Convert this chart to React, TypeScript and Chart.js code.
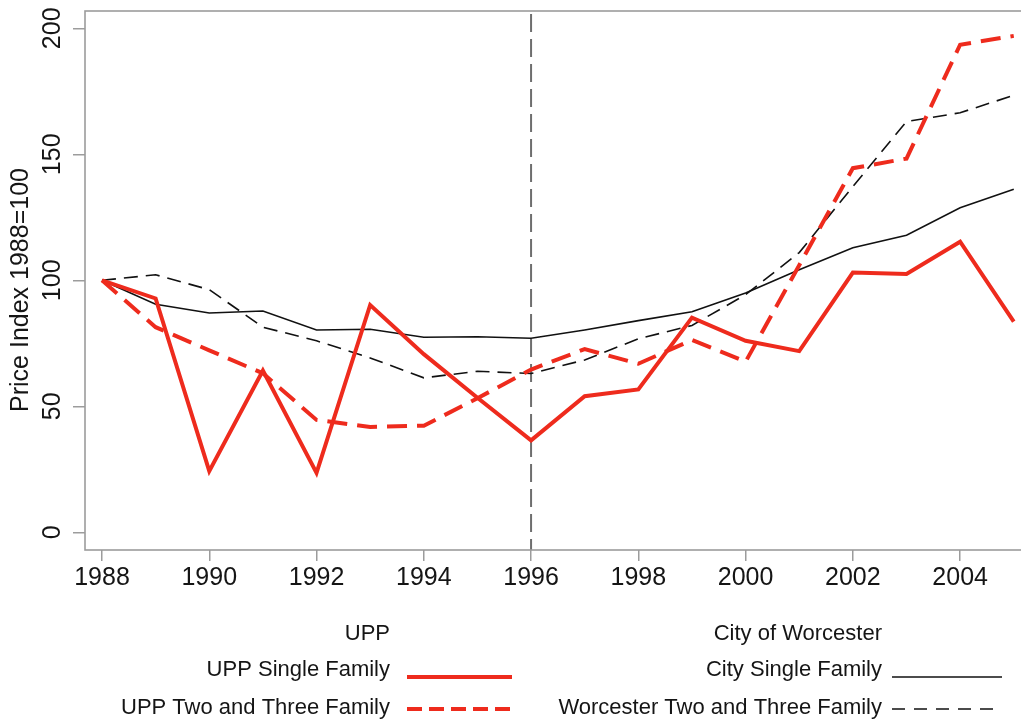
import React, { useEffect, useRef } from "react";
import { Chart, registerables } from "chart.js";

Chart.register(...registerables);

const YEARS = [1988, 1989, 1990, 1991, 1992, 1993, 1994, 1995, 1996, 1997, 1998, 1999, 2000, 2001, 2002, 2003, 2004, 2005];
const UPP_SINGLE = [100, 92.8, 24.3, 64.2, 23.6, 90.2, 70.7, 53.4, 36.5, 54, 56.7, 85.2, 76, 71.9, 103.1, 102.5, 115.3, 83.6];
const UPP_TWO_THREE = [100, 81.4, 72.2, 63.1, 44.6, 41.8, 42.3, 53.2, 64.6, 72.7, 66.9, 76.3, 67.7, 106, 144.5, 148.3, 193.5, 197];
const CITY_SINGLE = [100, 90.5, 87, 87.8, 80.3, 80.6, 77.4, 77.6, 77, 80.3, 84, 87.5, 95, 104.2, 112.9, 117.9, 128.8, 136.1];
const WORC_TWO_THREE = [100, 102.2, 96.3, 81.4, 76, 69.2, 61.3, 63.9, 63, 68.4, 76.8, 82.1, 94.3, 111, 137.2, 163, 166.5, 173.4];

const X_TICKS = [1988, 1990, 1992, 1994, 1996, 1998, 2000, 2002, 2004];
const Y_TICKS = [0, 50, 100, 150, 200];
const MARK_YEAR = 1996;

const Y_TITLE = "Price Index 1988=100";
const GROUP_TITLES = ["UPP", "City of Worcester"];
const SERIES_NAMES = ["UPP Single Family", "UPP Two and Three Family", "City Single Family", "Worcester Two and Three Family"];

const RED = "#ee2b1d";
const FONT = "'Liberation Sans', Arial, sans-serif";

export default function App() {
  const ref = useRef<HTMLCanvasElement | null>(null);

  useEffect(() => {
    const canvas = ref.current;
    if (!canvas) return;
    const pts = (arr: number[]) => YEARS.map((x, i) => ({ x, y: arr[i] }));

    const styles = [
      { color: RED, width: 4, dash: [] as number[] },
      { color: RED, width: 4, dash: [20, 10] },
      { color: "#111111", width: 1.6, dash: [] as number[] },
      { color: "#111111", width: 1.6, dash: [14, 8] },
    ];
    const series = [UPP_SINGLE, UPP_TWO_THREE, CITY_SINGLE, WORC_TWO_THREE];

    const decor = {
      id: "decor",
      beforeDatasetsDraw(chart: any) {
        const ctx = chart.ctx;
        const { top, bottom } = chart.chartArea;
        const x = chart.scales.x.getPixelForValue(MARK_YEAR);
        ctx.save();
        ctx.strokeStyle = "#6e6e6e";
        ctx.lineWidth = 2;
        ctx.setLineDash([18, 7]);
        ctx.beginPath();
        ctx.moveTo(x, top + 3);
        ctx.lineTo(x, bottom);
        ctx.stroke();
        ctx.restore();
      },
      afterDraw(chart: any) {
        const ctx = chart.ctx;
        const { left, top, right, bottom } = chart.chartArea;
        const ys = chart.scales.y;
        ctx.save();
        ctx.strokeStyle = "#9c9c9c";
        ctx.lineWidth = 1.6;
        ctx.strokeRect(left, top, right - left + 20, bottom - top);

        ctx.fillStyle = "#151515";
        ctx.font = `25px ${FONT}`;
        ctx.textAlign = "center";
        ctx.textBaseline = "middle";
        for (const v of Y_TICKS) {
          const y = ys.getPixelForValue(v);
          ctx.save();
          ctx.translate(53, y);
          ctx.rotate(-Math.PI / 2);
          ctx.fillText(String(v), 0, 0);
          ctx.restore();
        }
        ctx.save();
        ctx.translate(21, 290);
        ctx.rotate(-Math.PI / 2);
        ctx.fillText(Y_TITLE, 0, 0);
        ctx.restore();

        // legend
        ctx.font = `22px ${FONT}`;
        ctx.textAlign = "right";
        const colsText = [390, 882];
        const colsLine = [[407, 512], [892, 1002]];
        const rows = [670, 708];
        GROUP_TITLES.forEach((t, c) => ctx.fillText(t, colsText[c], 634));
        SERIES_NAMES.forEach((name, i) => {
          const c = Math.floor(i / 2);
          const r = i % 2;
          ctx.fillText(name, colsText[c], rows[r]);
          const st = styles[i];
          ctx.save();
          ctx.strokeStyle = st.color;
          ctx.lineWidth = st.width;
          ctx.setLineDash(c === 0 ? (r === 1 ? [15, 7] : []) : (r === 1 ? [13, 9] : []));
          ctx.beginPath();
          const ly = rows[r] + (r === 0 ? 7 : 1);
          ctx.moveTo(colsLine[c][0], ly);
          ctx.lineTo(colsLine[c][1], ly);
          ctx.stroke();
          ctx.restore();
        });
        ctx.restore();
      },
    };

    const chart = new Chart(canvas, {
      type: "line",
      data: {
        datasets: series.map((arr, i) => ({
          label: SERIES_NAMES[i],
          data: pts(arr),
          borderColor: styles[i].color,
          borderWidth: styles[i].width,
          borderDash: styles[i].dash,
          pointRadius: 0,
          tension: 0,
          fill: false,
          borderJoinStyle: "miter" as const,
        })),
      },
      options: {
        responsive: false,
        animation: false,
        events: [],
        layout: { padding: { top: 11, right: 0, left: 0, bottom: 0 } },
        plugins: { legend: { display: false }, tooltip: { enabled: false }, title: { display: false } },
        scales: {
          x: {
            type: "linear",
            min: 1987.683,
            max: 2005.135,
            afterBuildTicks: (s: any) => { s.ticks = X_TICKS.map((v) => ({ value: v })); },
            afterFit: (s: any) => { s.height = 723 - 550; },
            ticks: {
              autoSkip: false,
              maxRotation: 0,
              minRotation: 0,
              padding: 2,
              color: "#151515",
              font: { size: 25, family: FONT },
              callback: (v: any) => String(v),
            },
            grid: { drawOnChartArea: false, drawTicks: true, tickLength: 11, color: "#9c9c9c", lineWidth: 1.5 },
            border: { display: false },
          },
          y: {
            type: "linear",
            min: -7.02,
            max: 206.87,
            afterBuildTicks: (s: any) => { s.ticks = Y_TICKS.map((v) => ({ value: v })); },
            afterFit: (s: any) => { s.width = 85; },
            ticks: { display: false },
            grid: { drawOnChartArea: false, drawTicks: true, tickLength: 12, color: "#9c9c9c", lineWidth: 1.5 },
            border: { display: false },
          },
        },
      },
      plugins: [decor],
    });
    return () => chart.destroy();
  }, []);

  return (
    <div style={{ position: "fixed", left: 0, top: 0, width: 1021, height: 723, background: "#fff" }}>
      <canvas ref={ref} width={1021} height={723} style={{ display: "block", width: 1021, height: 723 }} />
    </div>
  );
}
